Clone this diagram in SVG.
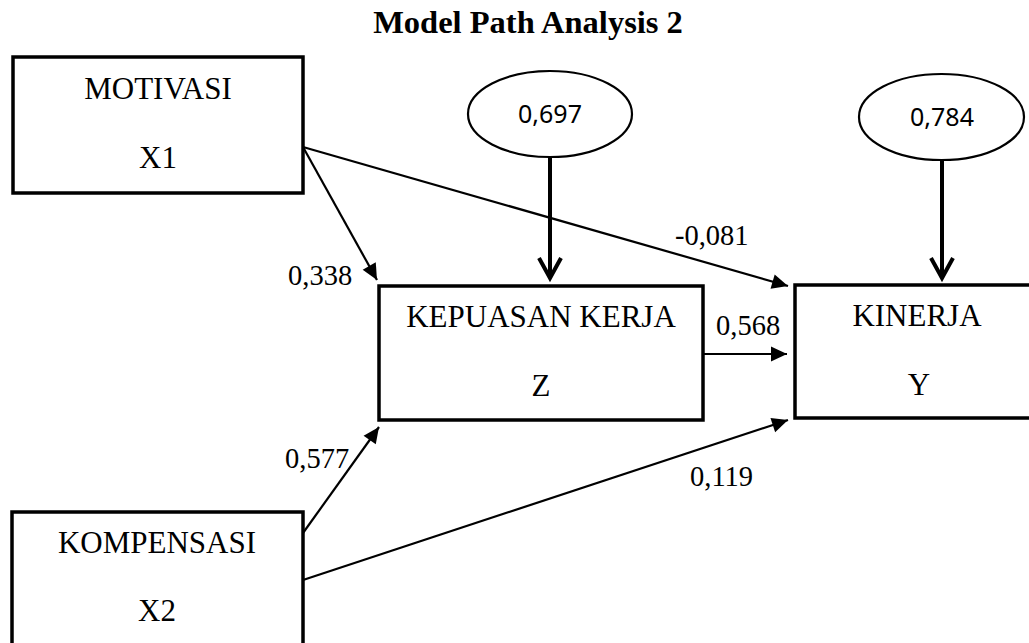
<svg xmlns="http://www.w3.org/2000/svg" width="1029" height="643" viewBox="0 0 1029 643">
<style>
.box{fill:#fff;stroke:#000;stroke-width:3.5}
.ell{fill:#fff;stroke:#000;stroke-width:2.2}
.lbl{font-family:"Liberation Serif","Times New Roman",serif;font-size:31px;fill:#000;text-anchor:middle}
.num{font-family:"Liberation Serif","Times New Roman",serif;font-size:28.5px;fill:#000}
.enum{font-family:"Noto Sans",sans-serif;font-size:25px;fill:#000;text-anchor:middle}
.thin{fill:none;stroke:#000;stroke-width:2.2;marker-end:url(#tri)}
.thick{fill:none;stroke:#000;stroke-width:4;marker-end:url(#vee)}
</style>
<defs>
<marker id="tri" markerUnits="userSpaceOnUse" viewBox="-17 -8 18 16" refX="0" refY="0" markerWidth="18" markerHeight="16" orient="auto" overflow="visible">
<path d="M0,0 L-16,-7.5 L-16,7.5 Z" fill="#000"/>
</marker>
<marker id="vee" markerUnits="userSpaceOnUse" viewBox="-22 -13 24 26" refX="0" refY="0" markerWidth="24" markerHeight="26" orient="auto" overflow="visible">
<path d="M-20,-11 L0,0 L-20,11" fill="none" stroke="#000" stroke-width="4"/>
</marker>
</defs>
<rect width="1029" height="643" fill="#fff"/>
<text x="528" y="33" font-family="'Liberation Serif','Times New Roman',serif" font-size="32.5" font-weight="bold" text-anchor="middle">Model Path Analysis 2</text>
<g id="connectors">
<path class="thin" d="M303,147 L377,280"/>
<path class="thin" d="M303,147 L788,286"/>
<path class="thin" d="M703,354 L787,354"/>
<path class="thin" d="M303,533 L379,427"/>
<path class="thin" d="M303,580 L788,420"/>
<path class="thick" d="M550,158 L550,278"/>
<path class="thick" d="M942,160 L942,278"/>
<text class="num" x="288" y="285">0,338</text>
<text class="num" x="675" y="245">-0,081</text>
<text class="num" x="716" y="335">0,568</text>
<text class="num" x="285" y="468">0,577</text>
<text class="num" x="690" y="486">0,119</text>
</g>
<g id="motivasi">
<rect class="box" x="13" y="57" width="290" height="136"/>
<text class="lbl" x="158" y="99">MOTIVASI</text>
<text class="lbl" x="158" y="168">X1</text>
</g>
<g id="kompensasi">
<rect class="box" x="12" y="512" width="291" height="140"/>
<text class="lbl" x="157" y="553">KOMPENSASI</text>
<text class="lbl" x="157" y="621">X2</text>
</g>
<g id="kepuasan">
<rect class="box" x="379" y="286" width="324" height="134"/>
<text class="lbl" x="541" y="327">KEPUASAN KERJA</text>
<text class="lbl" x="541" y="396">Z</text>
</g>
<g id="kinerja">
<rect class="box" x="795" y="285" width="250" height="133"/>
<text class="lbl" x="917" y="326">KINERJA</text>
<text class="lbl" x="919" y="395">Y</text>
</g>
<g id="e1">
<ellipse class="ell" cx="550" cy="114" rx="82" ry="43"/>
<text class="enum" x="550" y="123">0,697</text>
</g>
<g id="e2">
<ellipse class="ell" cx="941.5" cy="117" rx="82.5" ry="43"/>
<text class="enum" x="942" y="126">0,784</text>
</g>
</svg>
